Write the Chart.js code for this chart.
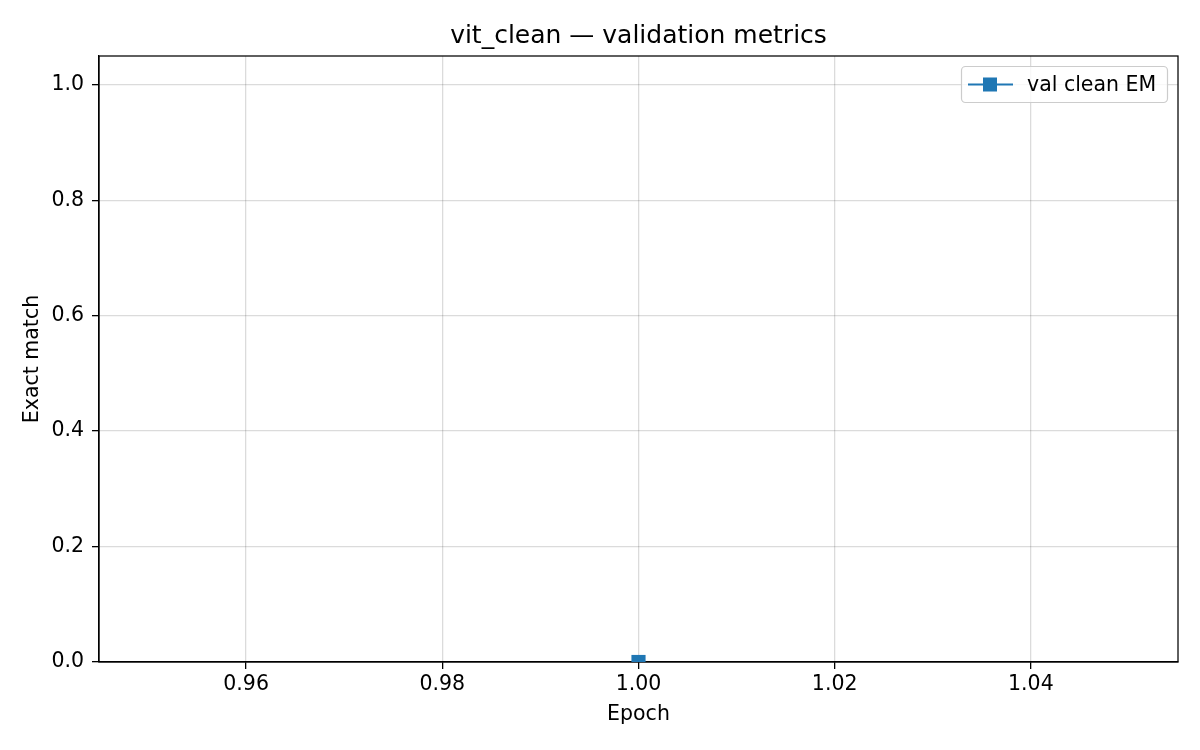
<!DOCTYPE html>
<html>
<head>
<meta charset="utf-8">
<script src="https://cdn.jsdelivr.net/npm/chart.js@4"></script>
<style>
html, body { margin: 0; padding: 0; background: #fff; }
canvas { display: block; }
</style>
</head>
<body>
<canvas id="c" width="1200" height="750"></canvas>
<script>
const epochs = [1];
const valCleanEM = [0];
const xTicks = [0.96, 0.98, 1.00, 1.02, 1.04];
const yTicks = [0, 0.2, 0.4, 0.6, 0.8, 1.0];
const chartTitle = "vit_clean — validation metrics";
const seriesLabel = "val clean EM";

const FONT = "'DejaVu Sans', sans-serif";
const BLUE = "#1f77b4";
const TXT = 20.5;

// titre + cadre + légende dessinés à la main (style matplotlib)
const mplDecor = {
  id: "mplDecor",
  beforeDatasetsDraw(chart) {
    const { ctx, chartArea: a } = chart;
    ctx.save();
    ctx.strokeStyle = "#000";
    ctx.lineWidth = 1.25;
    ctx.strokeRect(a.left, a.top, a.right - a.left, a.bottom - a.top);
    ctx.restore();
  },
  afterDraw(chart) {
    const { ctx, chartArea: a } = chart;
    ctx.save();
    ctx.fillStyle = "#000";
    ctx.font = "25px " + FONT;
    ctx.textAlign = "center";
    ctx.textBaseline = "middle";
    ctx.fillText(chartTitle, (a.left + a.right) / 2, 36);

    // légende
    const ds = chart.data.datasets[0];
    const bx = 961, by = 66, bw = 206, bh = 36;
    ctx.fillStyle = "rgba(255,255,255,0.8)";
    ctx.strokeStyle = "#cccccc";
    ctx.lineWidth = 1.2;
    ctx.beginPath();
    ctx.roundRect(bx + 0.5, by + 0.5, bw, bh, 4);
    ctx.fill();
    ctx.stroke();
    const cy = by + bh / 2 + 0.5;
    ctx.strokeStyle = ds.borderColor;
    ctx.lineWidth = 2;
    ctx.beginPath();
    ctx.moveTo(968, cy);
    ctx.lineTo(1013, cy);
    ctx.stroke();
    ctx.fillStyle = ds.backgroundColor;
    ctx.fillRect(990 - 7, cy - 7, 14, 14);
    ctx.fillStyle = "#000";
    ctx.font = TXT + "px " + FONT;
    ctx.textAlign = "left";
    ctx.fillText(ds.label, 1027, cy + 1);
    ctx.restore();
  }
};

new Chart(document.getElementById("c"), {
  type: "line",
  data: {
    datasets: [{
      label: seriesLabel,
      data: epochs.map((e, i) => ({ x: e, y: valCleanEM[i] })),
      borderColor: BLUE,
      backgroundColor: BLUE,
      borderWidth: 2,
      pointStyle: "rect",
      pointRadius: 10,
      pointBorderWidth: 0,
      clip: 0
    }]
  },
  options: {
    responsive: false,
    animation: false,
    devicePixelRatio: 1,
    layout: { padding: { top: 56, right: 22, left: 0, bottom: 0 } },
    plugins: {
      legend: { display: false },
      title: { display: false },
      tooltip: { enabled: false }
    },
    scales: {
      x: {
        type: "linear",
        min: 0.945,
        max: 1.055,
        afterBuildTicks: s => { s.ticks = xTicks.map(v => ({ value: v })); },
        afterFit: s => { s.height = 88; },
        ticks: {
          callback: v => v.toFixed(2),
          color: "#000",
          font: { family: FONT, size: TXT },
          padding: 3,
          maxRotation: 0
        },
        grid: {
          color: "rgba(0,0,0,0.14)",
          tickColor: "#000",
          tickLength: 7,
          lineWidth: 1.3
        },
        border: { display: true, color: "#000", width: 1.25 },
        title: {
          display: true,
          text: "Epoch",
          color: "#000",
          font: { family: FONT, size: TXT },
          padding: { top: 0, bottom: 23 }
        }
      },
      y: {
        min: 0,
        max: 1.05,
        afterBuildTicks: s => { s.ticks = yTicks.map(v => ({ value: v })); },
        afterFit: s => { s.width = 99; },
        ticks: {
          callback: v => v.toFixed(1),
          color: "#000",
          font: { family: FONT, size: TXT },
          padding: 8
        },
        grid: {
          color: "rgba(0,0,0,0.14)",
          tickColor: "#000",
          tickLength: 7,
          lineWidth: 1.3
        },
        border: { display: true, color: "#000", width: 1.25 },
        title: {
          display: true,
          text: "Exact match",
          color: "#000",
          font: { family: FONT, size: TXT },
          padding: { top: 20, bottom: 0 }
        }
      }
    }
  },
  plugins: [mplDecor]
});
</script>
</body>
</html>
